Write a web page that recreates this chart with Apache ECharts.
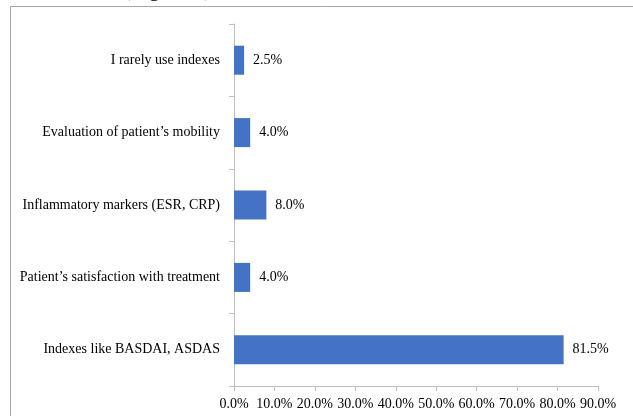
<!DOCTYPE html>
<html>
<head>
<meta charset="utf-8">
<script src="https://cdn.jsdelivr.net/npm/echarts@6/dist/echarts.min.js"></script>
<style>
  html, body { margin: 0; padding: 0; background: #fff; }
  #chart { width: 633px; height: 416px; }
</style>
</head>
<body>
<div id="chart"></div>
<script>
// Categories listed bottom-to-top (category axis on y starts at the bottom)
var categories = [
  'Indexes like BASDAI, ASDAS',
  'Patient\u2019s satisfaction with treatment',
  'Inflammatory markers (ESR, CRP)',
  'Evaluation of patient\u2019s mobility',
  'I rarely use indexes'
];
var shares = [81.5, 4.0, 8.0, 4.0, 2.5];
var tickMax = 90;
var tickStep = 10;

var serif = '"Liberation Serif", "Times New Roman", serif';
var chart = echarts.init(document.getElementById('chart'), null, { renderer: 'canvas' });

chart.setOption({
  animation: false,
  backgroundColor: '#ffffff',
  graphic: [
    {
      type: 'text',
      left: 123,
      top: -21,
      style: { text: '(Figure 4)', font: '22px ' + serif, fill: '#000' }
    },
    {
      type: 'rect',
      shape: { x: 10.5, y: 6.5, width: 700, height: 500 },
      style: { fill: 'none', stroke: '#a6a6a6', lineWidth: 1 }
    }
  ],
  grid: { left: 234, right: 35, top: 24, bottom: 30, containLabel: false },
  xAxis: {
    type: 'value',
    min: 0,
    max: tickMax,
    interval: tickStep,
    axisLine: { show: true, lineStyle: { color: '#bfbfbf', width: 1 } },
    axisTick: { show: true, length: 5, lineStyle: { color: '#bfbfbf' } },
    splitLine: { show: false },
    axisLabel: {
      color: '#000',
      fontFamily: serif,
      fontSize: 14,
      margin: 11,
      formatter: function (v) { return v.toFixed(1) + '%'; }
    }
  },
  yAxis: {
    type: 'category',
    data: categories,
    axisLine: { show: true, lineStyle: { color: '#bfbfbf', width: 1 } },
    axisTick: { show: true, length: 5, lineStyle: { color: '#bfbfbf' } },
    axisLabel: { color: '#000', fontFamily: serif, fontSize: 14, margin: 14 }
  },
  series: [{
    type: 'bar',
    data: shares,
    barWidth: 29,
    itemStyle: { color: '#4472c4' },
    label: {
      show: true,
      position: 'right',
      distance: 9,
      color: '#000',
      fontFamily: serif,
      fontSize: 14,
      formatter: function (p) { return p.value.toFixed(1) + '%'; }
    }
  }]
});
</script>
</body>
</html>
